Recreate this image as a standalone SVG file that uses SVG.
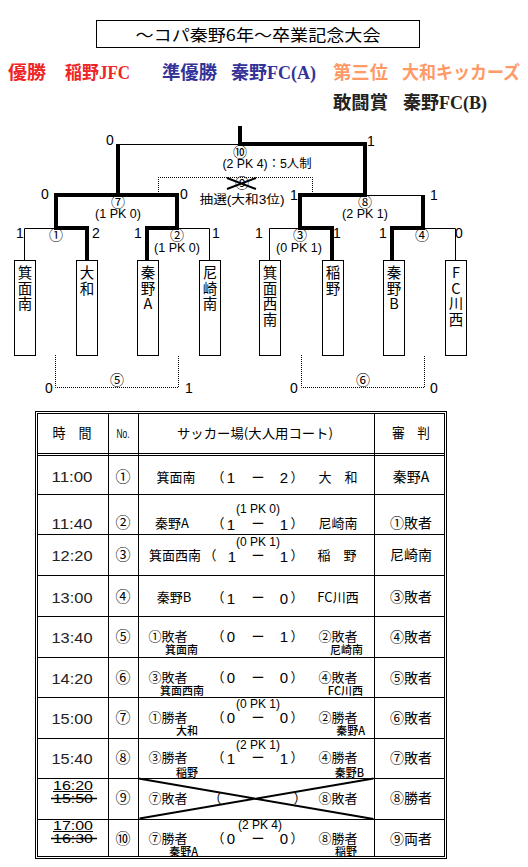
<svg xmlns="http://www.w3.org/2000/svg" width="528" height="867" viewBox="0 0 528 867">
<style>
.j{font-family:"Noto Sans CJK JP",sans-serif;fill:#000}
.n{font-family:"Liberation Sans","Noto Sans CJK JP",sans-serif;fill:#000}
.aw{font-family:"Liberation Serif","Noto Sans CJK JP",serif;font-weight:bold;font-size:18px}
.red{fill:#ee2626}.blue{fill:#333399}.org{fill:#ff9966}.blk{fill:#222}
.thick{stroke:#000;stroke-width:4;fill:none;stroke-linejoin:miter}
.thin{stroke:#000;stroke-width:1;fill:none}
.dot{stroke:#000;stroke-width:1;fill:none;stroke-dasharray:1 1}
.box{stroke:#000;stroke-width:1;fill:#fff}
.vt{font-family:"Noto Sans CJK JP",sans-serif;font-size:14.5px;text-anchor:middle}
.sc{font-family:"Liberation Sans","Noto Sans CJK JP",sans-serif;font-size:14px;text-anchor:middle}
.cn{font-family:"Noto Sans CJK JP",sans-serif;font-size:14px;text-anchor:middle}
.cn2{font-family:"Noto Sans CJK JP",sans-serif;font-size:15px;text-anchor:middle}
.pk{font-family:"Liberation Sans","Noto Sans CJK JP",sans-serif;font-size:12px;text-anchor:middle}
.m{font-family:"Noto Sans CJK JP",sans-serif;font-size:13px;text-anchor:middle}
.d{font-family:"Liberation Sans","Noto Sans CJK JP",sans-serif;font-size:15px;text-anchor:middle}
.tm{font-family:"Liberation Sans",sans-serif;font-size:15px;text-anchor:middle;fill:#222}
.tm2{font-family:"Liberation Sans",sans-serif;font-size:13px;text-anchor:middle}
.rf{font-family:"Noto Sans CJK JP",sans-serif;font-size:14px;text-anchor:middle}
.sub{font-family:"Noto Sans CJK JP",sans-serif;font-size:11px;text-anchor:end;font-weight:500}
</style>

<g id="title">
<rect x="96.5" y="20.5" width="323" height="27" fill="none" stroke="#000"/>
<text class="j" x="258" y="41" font-size="16" text-anchor="middle" textLength="245" lengthAdjust="spacingAndGlyphs">～コパ秦野6年～卒業記念大会</text>
</g>

<g id="awards">
<text class="aw red" x="8" y="79" textLength="38" lengthAdjust="spacingAndGlyphs">優勝</text>
<text class="aw red" x="65" y="79" textLength="65" lengthAdjust="spacingAndGlyphs">稲野JFC</text>
<text class="aw blue" x="162" y="79" textLength="55" lengthAdjust="spacingAndGlyphs">準優勝</text>
<text class="aw blue" x="231" y="79" textLength="85" lengthAdjust="spacingAndGlyphs">秦野FC(A)</text>
<text class="aw org" x="333" y="79" textLength="55" lengthAdjust="spacingAndGlyphs">第三位</text>
<text class="aw org" x="402" y="79" textLength="118" lengthAdjust="spacingAndGlyphs">大和キッカーズ</text>
<text class="aw blk" x="333" y="109" textLength="55" lengthAdjust="spacingAndGlyphs">敢闘賞</text>
<text class="aw blk" x="403" y="109" textLength="84" lengthAdjust="spacingAndGlyphs">秦野FC(B)</text>
</g>

<g id="connectors">
<path class="thin" d="M24.5,260 V228.5 H56"/>
<path class="thin" d="M177,228.5 H209.5 V260"/>
<path class="thin" d="M118,144.5 H240"/>
<path class="thin" d="M365,195.5 H423"/>
<path class="thin" d="M269.5,260 V228.5 H300"/>
<path class="thin" d="M423,228.5 H455.5 V260"/>
<path class="thick" d="M87,260 V228 H56 V195 H177 V228 H147 V260"/>
<path class="thick" d="M118,195 V144"/>
<path class="thick" d="M240,126 V144 H365 V195 H300 V228 H332 V260"/>
<path class="thick" d="M392,260 V228 H423 V195"/>
<path class="dot" d="M158.5,192 V177.5 H312.5 V192"/>
<path class="dot" d="M55.5,355 V387.5 H178.5 V355"/>
<path class="dot" d="M301.5,355 V387.5 H424.5 V355"/>
</g>

<g id="match-labels">
<text class="sc" x="20" y="238">1</text>
<text class="sc" x="96" y="238">2</text>
<text class="sc" x="138" y="238">1</text>
<text class="sc" x="216" y="238">1</text>
<text class="sc" x="259" y="238">1</text>
<text class="sc" x="337" y="238">1</text>
<text class="sc" x="383" y="238">1</text>
<text class="sc" x="459" y="238">0</text>
<text class="sc" x="45" y="199">0</text>
<text class="sc" x="184" y="199">0</text>
<text class="sc" x="294" y="200">1</text>
<text class="sc" x="434" y="200">1</text>
<text class="sc" x="110" y="145">0</text>
<text class="sc" x="371" y="146">1</text>
<text class="sc" x="49" y="393">0</text>
<text class="sc" x="189" y="393">1</text>
<text class="sc" x="294" y="393">0</text>
<text class="sc" x="434" y="393">0</text>
<text class="cn" x="56" y="240">①</text>
<text class="cn" x="177" y="240">②</text>
<text class="cn" x="300" y="240">③</text>
<text class="cn" x="422" y="240">④</text>
<text class="pk" x="177" y="252" textLength="46" lengthAdjust="spacingAndGlyphs">(1 PK 0)</text>
<text class="pk" x="299" y="252" textLength="46" lengthAdjust="spacingAndGlyphs">(0 PK 1)</text>
<text class="cn" x="118" y="207">⑦</text>
<text class="pk" x="118" y="218" textLength="46" lengthAdjust="spacingAndGlyphs">(1 PK 0)</text>
<text class="cn" x="365" y="207">⑧</text>
<text class="pk" x="365" y="218" textLength="46" lengthAdjust="spacingAndGlyphs">(2 PK 1)</text>
<text class="cn" x="240" y="157">⑩</text>
<text class="pk" x="267" y="168" textLength="89" lengthAdjust="spacingAndGlyphs">(2 PK 4)：5人制</text>
<text class="cn" x="242" y="188">⑨</text>
<path d="M227,178 L256,189 M227,189 L256,178" stroke="#000" stroke-width="2" fill="none"/>
<text class="pk" x="242" y="204" textLength="85" lengthAdjust="spacingAndGlyphs">抽選(大和3位)</text>
<text class="cn" x="117" y="385">⑤</text>
<text class="cn" x="363" y="385">⑥</text>
</g>

<g id="team-minoominami"><rect class="box" x="14.5" y="260.5" width="21" height="95"/>
<text class="vt"><tspan x="25" y="278">箕</tspan><tspan x="25" y="293.5">面</tspan><tspan x="25" y="309">南</tspan></text></g>
<g id="team-yamato"><rect class="box" x="76.5" y="260.5" width="21" height="95"/>
<text class="vt"><tspan x="87" y="278">大</tspan><tspan x="87" y="293.5">和</tspan></text></g>
<g id="team-hadanoA"><rect class="box" x="137.5" y="260.5" width="21" height="95"/>
<text class="vt"><tspan x="148" y="278">秦</tspan><tspan x="148" y="293.5">野</tspan><tspan x="148" y="309">A</tspan></text></g>
<g id="team-amagasakiminami"><rect class="box" x="199.5" y="260.5" width="21" height="95"/>
<text class="vt"><tspan x="210" y="278">尼</tspan><tspan x="210" y="293.5">崎</tspan><tspan x="210" y="309">南</tspan></text></g>
<g id="team-minoonishiminami"><rect class="box" x="259.5" y="260.5" width="21" height="95"/>
<text class="vt"><tspan x="270" y="278">箕</tspan><tspan x="270" y="293.5">面</tspan><tspan x="270" y="309">西</tspan><tspan x="270" y="324.5">南</tspan></text></g>
<g id="team-inano"><rect class="box" x="322.5" y="260.5" width="21" height="95"/>
<text class="vt"><tspan x="333" y="278">稲</tspan><tspan x="333" y="293.5">野</tspan></text></g>
<g id="team-hadanoB"><rect class="box" x="383.5" y="260.5" width="21" height="95"/>
<text class="vt"><tspan x="394" y="278">秦</tspan><tspan x="394" y="293.5">野</tspan><tspan x="394" y="309">B</tspan></text></g>
<g id="team-fckawanishi"><rect class="box" x="445.5" y="260.5" width="21" height="95"/>
<text class="vt"><tspan x="456" y="278">F</tspan><tspan x="456" y="293.5">C</tspan><tspan x="456" y="309">川</tspan><tspan x="456" y="324.5">西</tspan></text></g>

<g id="schedule-table">
<rect x="35.5" y="411.5" width="411" height="447" fill="none" stroke="#000"/>
<rect x="37.5" y="413.5" width="407" height="443" fill="none" stroke="#000"/>
<path class="thin" d="M37.5,453.5 H444.5 M37.5,455.5 H444.5 M108.5,413.5 V856.5 M138.5,413.5 V856.5 M374.5,413.5 V856.5 M37.5,494.5 H444.5 M37.5,534.5 H444.5 M37.5,575.5 H444.5 M37.5,616.5 H444.5 M37.5,657.5 H444.5 M37.5,697.5 H444.5 M37.5,738.5 H444.5 M37.5,778.5 H444.5 M37.5,819.5 H444.5"/>
<text class="rf" x="72" y="438" textLength="39" lengthAdjust="spacingAndGlyphs">時　間</text>
<text class="n" x="123" y="438" font-size="13" text-anchor="middle" textLength="13" lengthAdjust="spacingAndGlyphs">No.</text>
<text class="m" x="255" y="438" textLength="156" lengthAdjust="spacingAndGlyphs">サッカー場(大人用コート)</text>
<text class="rf" x="411" y="438" textLength="38" lengthAdjust="spacingAndGlyphs">審　判</text>

<!-- row 1 -->
<text class="tm" x="72" y="482" textLength="41" lengthAdjust="spacingAndGlyphs">11:00</text>
<text class="cn2" x="123" y="482">①</text>
<text class="m" x="176" y="482">箕面南</text>
<text class="m" x="218" y="482">（</text><text class="d" x="231" y="483">1</text><text class="m" x="258" y="482">ー</text><text class="d" x="284" y="483">2</text><text class="m" x="297" y="482">）</text>
<text class="m" x="338" y="482">大　和</text>
<text class="rf" x="411" y="482">秦野A</text>

<!-- row 2 -->
<text class="pk" x="258" y="513">(1 PK 0)</text>
<text class="tm" x="72" y="529" textLength="41" lengthAdjust="spacingAndGlyphs">11:40</text>
<text class="cn2" x="123" y="528">②</text>
<text class="m" x="172" y="528">秦野A</text>
<text class="m" x="218" y="528">（</text><text class="d" x="231" y="530">1</text><text class="m" x="258" y="528">ー</text><text class="d" x="284" y="530">1</text><text class="m" x="297" y="528">）</text>
<text class="m" x="338" y="528">尼崎南</text>
<text class="rf" x="411" y="528">①敗者</text>

<!-- row 3 -->
<text class="pk" x="258" y="546">(0 PK 1)</text>
<text class="tm" x="72" y="561" textLength="41" lengthAdjust="spacingAndGlyphs">12:20</text>
<text class="cn2" x="123" y="560">③</text>
<text class="m" x="175" y="560">箕面西南</text>
<text class="m" x="210" y="560">（</text><text class="d" x="232" y="562">1</text><text class="m" x="258" y="560">ー</text><text class="d" x="284" y="562">1</text><text class="m" x="297" y="560">）</text>
<text class="m" x="337" y="560">稲　野</text>
<text class="rf" x="411" y="560">尼崎南</text>

<!-- row 4 -->
<text class="tm" x="72" y="603" textLength="41" lengthAdjust="spacingAndGlyphs">13:00</text>
<text class="cn2" x="123" y="602">④</text>
<text class="m" x="174" y="602">秦野B</text>
<text class="m" x="218" y="602">（</text><text class="d" x="231" y="604">1</text><text class="m" x="258" y="602">ー</text><text class="d" x="284" y="604">0</text><text class="m" x="297" y="602">）</text>
<text class="m" x="338" y="602">FC川西</text>
<text class="rf" x="411" y="602">③敗者</text>

<!-- row 5 -->
<text class="tm" x="72" y="643" textLength="41" lengthAdjust="spacingAndGlyphs">13:40</text>
<text class="cn2" x="123" y="642">⑤</text>
<text class="m" x="168" y="641">①敗者</text>
<text class="m" x="218" y="641">（</text><text class="d" x="231" y="642">0</text><text class="m" x="258" y="641">ー</text><text class="d" x="284" y="642">1</text><text class="m" x="297" y="641">）</text>
<text class="m" x="338" y="641">②敗者</text>
<text class="sub" x="198" y="654">箕面南</text>
<text class="sub" x="363" y="654">尼崎南</text>
<text class="rf" x="411" y="642">④敗者</text>

<!-- row 6 -->
<text class="tm" x="72" y="684" textLength="41" lengthAdjust="spacingAndGlyphs">14:20</text>
<text class="cn2" x="123" y="683">⑥</text>
<text class="m" x="168" y="682">③敗者</text>
<text class="m" x="218" y="682">（</text><text class="d" x="231" y="683">0</text><text class="m" x="258" y="682">ー</text><text class="d" x="284" y="683">0</text><text class="m" x="297" y="682">）</text>
<text class="m" x="338" y="682">④敗者</text>
<text class="sub" x="204" y="695">箕面西南</text>
<text class="sub" x="363" y="695">FC川西</text>
<text class="rf" x="411" y="683">⑤敗者</text>

<!-- row 7 -->
<text class="pk" x="258" y="708">(0 PK 1)</text>
<text class="tm" x="72" y="724" textLength="41" lengthAdjust="spacingAndGlyphs">15:00</text>
<text class="cn2" x="123" y="723">⑦</text>
<text class="m" x="168" y="722">①勝者</text>
<text class="m" x="218" y="722">（</text><text class="d" x="231" y="723">0</text><text class="m" x="258" y="722">ー</text><text class="d" x="284" y="723">0</text><text class="m" x="297" y="722">）</text>
<text class="m" x="338" y="722">②勝者</text>
<text class="sub" x="198" y="735">大和</text>
<text class="sub" x="365" y="735">秦野A</text>
<text class="rf" x="411" y="723">⑥敗者</text>

<!-- row 8 -->
<text class="pk" x="258" y="749">(2 PK 1)</text>
<text class="tm" x="72" y="764" textLength="41" lengthAdjust="spacingAndGlyphs">15:40</text>
<text class="cn2" x="123" y="763">⑧</text>
<text class="m" x="168" y="762">③勝者</text>
<text class="m" x="218" y="762">（</text><text class="d" x="231" y="764">1</text><text class="m" x="258" y="762">ー</text><text class="d" x="284" y="764">1</text><text class="m" x="297" y="762">）</text>
<text class="m" x="338" y="762">④勝者</text>
<text class="sub" x="198" y="777">稲野</text>
<text class="sub" x="364" y="777">秦野B</text>
<text class="rf" x="411" y="763">⑦敗者</text>

<!-- row 9 -->
<text class="tm2" x="73" y="790" textLength="40" lengthAdjust="spacingAndGlyphs">16:20</text>
<line x1="53" y1="791.5" x2="93" y2="791.5" stroke="#000"/>
<text class="tm2" x="73" y="803" textLength="40" lengthAdjust="spacingAndGlyphs">15:50</text>
<line x1="51" y1="798.5" x2="97" y2="798.5" stroke="#000" stroke-width="1.5"/>
<text class="cn2" x="123" y="803">⑨</text>
<text class="m" x="168" y="803">⑦敗者</text>
<text class="m" x="215" y="803">（</text>
<text class="m" x="300" y="803">）</text>
<text class="m" x="338" y="803">⑧敗者</text>
<path d="M138.5,778.5 L373.5,819 M139.5,818.5 L373.5,778.5" stroke="#000" stroke-width="2" fill="none"/>
<text class="rf" x="411" y="803">⑧勝者</text>

<!-- row 10 -->
<text class="tm2" x="73" y="830" textLength="40" lengthAdjust="spacingAndGlyphs">17:00</text>
<line x1="53" y1="831.5" x2="93" y2="831.5" stroke="#000"/>
<text class="tm2" x="73" y="843" textLength="40" lengthAdjust="spacingAndGlyphs">16:30</text>
<line x1="51" y1="838.5" x2="97" y2="838.5" stroke="#000" stroke-width="1.5"/>
<text class="cn2" x="123" y="844">⑩</text>
<text class="pk" x="260" y="829">(2 PK 4)</text>
<text class="m" x="168" y="843">⑦勝者</text>
<text class="m" x="218" y="843">（</text><text class="d" x="231" y="844">0</text><text class="m" x="258" y="843">ー</text><text class="d" x="284" y="844">0</text><text class="m" x="297" y="843">）</text>
<text class="m" x="338" y="843">⑧勝者</text>
<text class="sub" x="198" y="856">秦野A</text>
<text class="sub" x="357" y="856">稲野</text>
<text class="rf" x="411" y="844">⑨両者</text>
</g>
</svg>
